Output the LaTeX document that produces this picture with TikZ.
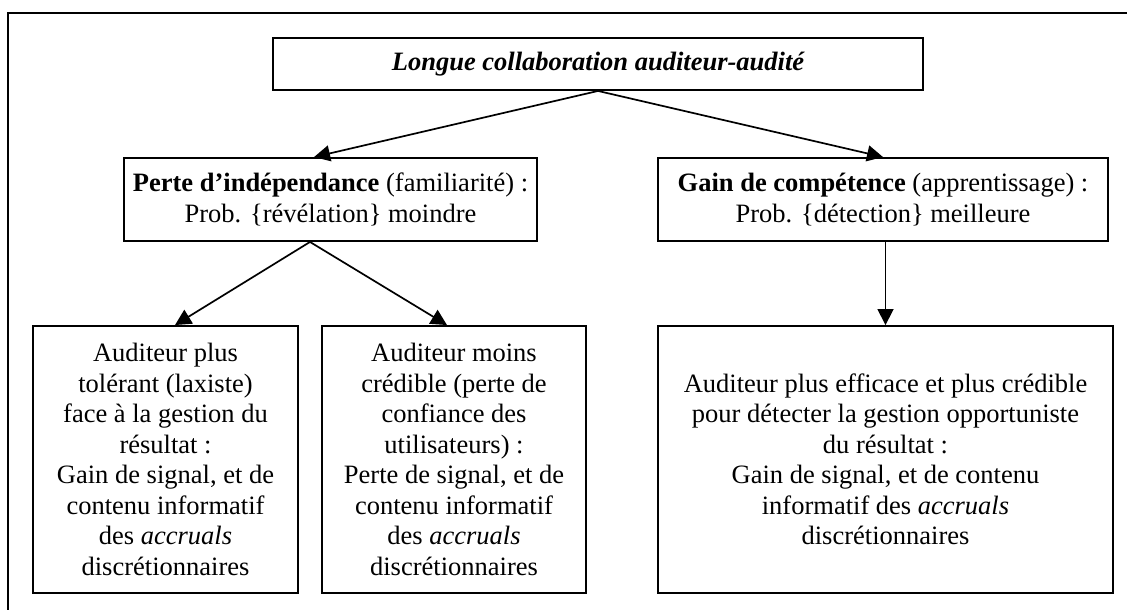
\documentclass[tikz,border=0pt]{standalone}
\usepackage{fontspec}
\setmainfont{Liberation Serif}
\newfontface\bifont{Liberation Serif Bold Italic}
\usetikzlibrary{arrows.meta}
\begin{document}
\begin{tikzpicture}[x=1pt,y=-1pt,
  box/.style={draw=black, line width=1.9pt, align=center, inner sep=0pt,
    font=\fontsize{26.5}{30.5}\selectfont},
  conn/.style={line width=1.7pt, -{Triangle[length=16pt,width=16pt]}}]
\useasboundingbox (0,0) rectangle (1127,610);
\clip (0,0) rectangle (1127,610);
\draw[line width=2.2pt] (8,13) rectangle (1160,640);
\node[box, minimum width=650pt, minimum height=52pt] (top) at (598,64)
  {{\bifont Longue collaboration auditeur-audité}};
\node[box, minimum width=413pt, minimum height=83pt] (lm) at (330.5,199.5)
  {\textbf{Perte d’indépendance} (familiarité) :\\Prob. \{révélation\} moindre};
\node[box, minimum width=450pt, minimum height=83pt] (rm) at (883,199.5)
  {\textbf{Gain de compétence} (apprentissage) :\\Prob. \{détection\} meilleure};
\node[box, minimum width=265pt, minimum height=267pt] (ba) at (165.5,459.5)
  {Auditeur plus\\tolérant (laxiste)\\face à la gestion du\\résultat :\\Gain de signal, et de\\contenu informatif\\des \textit{accruals}\\discrétionnaires};
\node[box, minimum width=264pt, minimum height=267pt] (bb) at (454,459.5)
  {Auditeur moins\\crédible (perte de\\confiance des\\utilisateurs) :\\Perte de signal, et de\\contenu informatif\\des \textit{accruals}\\discrétionnaires};
\node[box, minimum width=455pt, minimum height=267pt] (bc) at (885.5,459.5)
  {Auditeur plus efficace et plus crédible\\pour détecter la gestion opportuniste\\du résultat :\\Gain de signal, et de contenu\\informatif des \textit{accruals}\\discrétionnaires};
\draw[conn] (top.south) -- ([xshift=191pt]lm.north west);
\draw[conn] (top.south) -- (rm.north);
\draw[conn] ([xshift=-20.5pt]lm.south) -- ([xshift=9.5pt]ba.north);
\draw[conn] ([xshift=-20.5pt]lm.south) -- ([xshift=-7pt]bb.north);
\draw[conn] ([xshift=2.5pt]rm.south) -- (bc.north);
\end{tikzpicture}
\end{document}
